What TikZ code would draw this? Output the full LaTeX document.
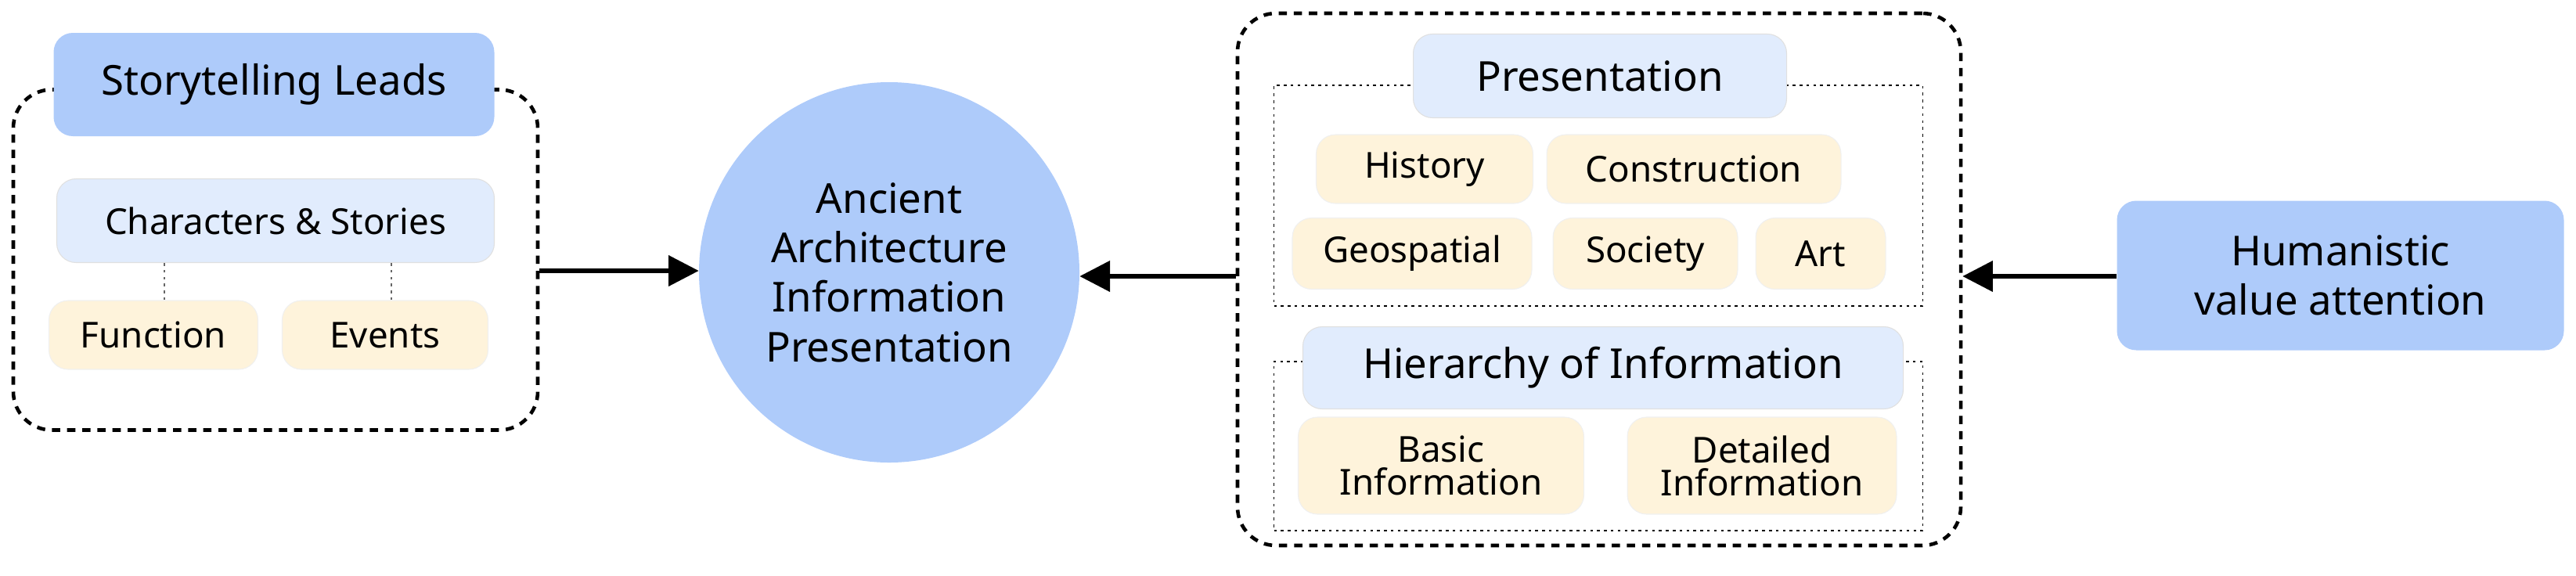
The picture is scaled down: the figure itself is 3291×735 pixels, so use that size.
\documentclass[tikz,border=0pt]{standalone}
\usepackage{fontspec}
\setmainfont{Noto Sans}
\usetikzlibrary{arrows.meta}
\definecolor{dblue}{HTML}{AECBFA}
\definecolor{lblue}{HTML}{E1ECFD}
\definecolor{beige}{HTML}{FEF3DB}
\begin{document}
\begin{tikzpicture}[x=0.02cm,y=-0.02cm,
  bx/.style={rounded corners=14pt,inner sep=0pt,align=center,font=\fontsize{26}{30}\selectfont},
  dk/.style={bx,fill=dblue},
  lt/.style={bx,fill=lblue,draw=black!12,line width=0.6pt},
  bg/.style={bx,fill=beige,draw=black!6,line width=0.6pt},
  grp/.style={draw,line width=2.6pt,dash pattern=on 6pt off 5pt,rounded corners=28pt},
  sub/.style={draw,line width=1pt,dash pattern=on 2pt off 3pt},
  arr/.style={line width=3pt,-{Triangle[length=22pt,width=22pt]}}]
\useasboundingbox (0,0) rectangle (3291,735);
\def\B(#1,#2,#3,#4){(#1,#2) rectangle (#3,#4)}
% left group
\node[grp,minimum width=670*0.02cm,minimum height=435*0.02cm] (lg) at (352,332) {};
\node[dk,minimum width=563*0.02cm,minimum height=132*0.02cm,font=\fontsize{30}{34}\selectfont] (sl) at (350,108) {Storytelling Leads};
\node[lt,minimum width=559*0.02cm,minimum height=107*0.02cm] (cs) at (352,282) {Characters \& Stories};
\node[bg,minimum width=267*0.02cm,minimum height=88*0.02cm] (fn) at (196,428) {Function};
\node[bg,minimum width=263*0.02cm,minimum height=88*0.02cm] (ev) at (492,428) {Events};
\draw[sub,black!60] (fn.north -| 210,0) -- (210,336);
\draw[sub,black!60] (ev.north -| 500,0) -- (500,336);
% circle
\node[circle,fill=dblue,minimum size=486*0.02cm,inner sep=0pt,align=center,font=\fontsize{30}{36}\selectfont] (c) at (1136,348) {Ancient\\Architecture\\Information\\Presentation};
\draw[arr] (lg.east |- 0,346) -- (c.west |- 0,346);
% right group
\node[grp,minimum width=924*0.02cm,minimum height=680*0.02cm] (rg) at (2043,357) {};
\node[sub,minimum width=829*0.02cm,minimum height=282*0.02cm,inner sep=0pt] (b1) at (2042,250) {};
\node[sub,minimum width=829*0.02cm,minimum height=216*0.02cm,inner sep=0pt] (b2) at (2042,570) {};
\node[lt,minimum width=477*0.02cm,minimum height=107*0.02cm,font=\fontsize{30}{34}\selectfont] (pr) at (2044,97) {Presentation};
\node[bg,minimum width=277*0.02cm,minimum height=88*0.02cm] (hi) at (1820,216) {History};
\node[bg,minimum width=376*0.02cm,minimum height=88*0.02cm] (co) at (2164,216) {Construction};
\node[bg,minimum width=306*0.02cm,minimum height=91*0.02cm] (ge) at (1804,324) {Geospatial};
\node[bg,minimum width=236*0.02cm,minimum height=91*0.02cm] (so) at (2102,324) {Society};
\node[bg,minimum width=166*0.02cm,minimum height=91*0.02cm] (ar) at (2326,324) {Art};
\node[lt,minimum width=767*0.02cm,minimum height=105*0.02cm,font=\fontsize{30}{34}\selectfont] (hr) at (2048,470) {Hierarchy of Information};
\node[bg,minimum width=365*0.02cm,minimum height=124*0.02cm,font=\fontsize{26}{24}\selectfont] (ba) at (1841,595) {Basic\\Information};
\node[bg,minimum width=344*0.02cm,minimum height=124*0.02cm,font=\fontsize{26}{24}\selectfont] (de) at (2251,595) {Detailed\\Information};
\draw[arr] (rg.west |- 0,353) -- (c.east |- 0,353);
% humanistic
\node[dk,minimum width=571*0.02cm,minimum height=191*0.02cm,font=\fontsize{30}{36}\selectfont] (hu) at (2990,352) {Humanistic\\value attention};
\draw[arr] (hu.west |- 0,353) -- (rg.east |- 0,353);
\end{tikzpicture}
\end{document}
